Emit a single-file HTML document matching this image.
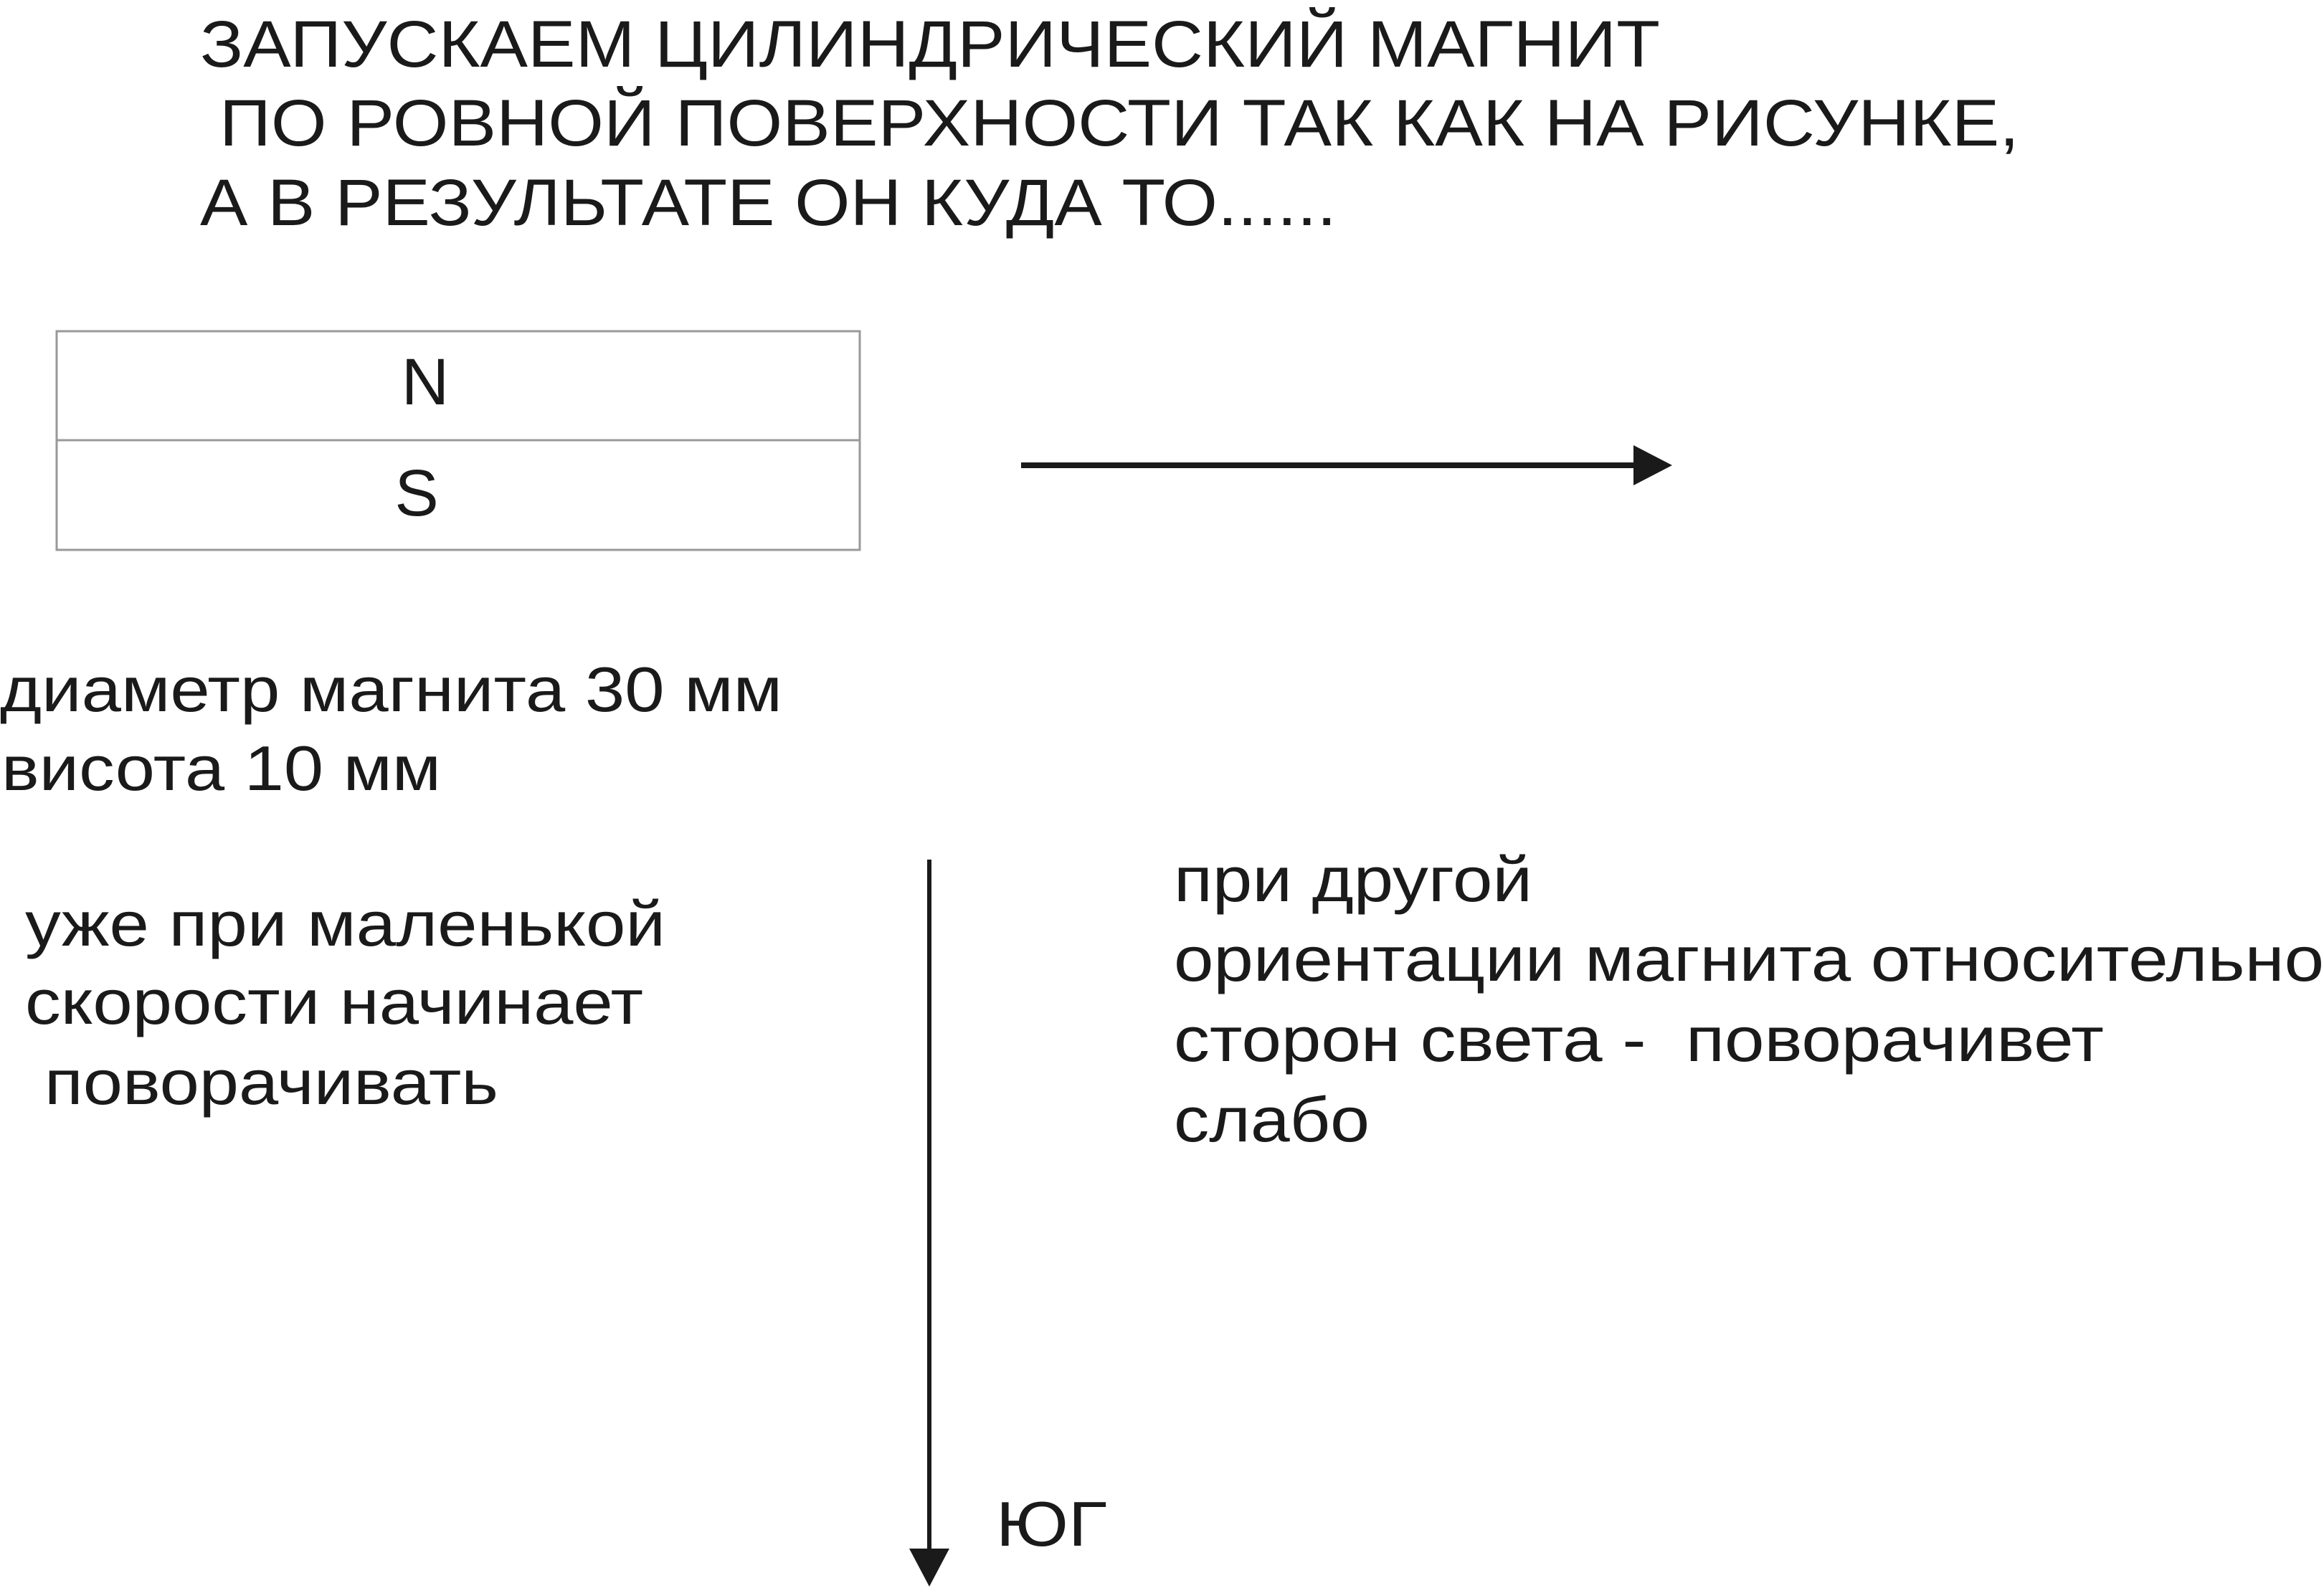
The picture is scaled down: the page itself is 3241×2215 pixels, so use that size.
<!DOCTYPE html>
<html><head><meta charset="utf-8"><style>
html,body{margin:0;padding:0;background:#fff;}
svg{display:block}
text{font-family:"Liberation Sans",Arial,sans-serif;fill:#1a1a1a}
</style></head><body>
<svg width="3241" height="2215" viewBox="0 0 3241 2215" xmlns="http://www.w3.org/2000/svg">
<rect width="3241" height="2215" fill="#fff"/>
<g font-size="92">
<text x="279" y="93" textLength="2036" lengthAdjust="spacingAndGlyphs">ЗАПУСКАЕМ ЦИЛИНДРИЧЕСКИЙ МАГНИТ</text>
<text x="306" y="203" textLength="2510" lengthAdjust="spacingAndGlyphs">ПО РОВНОЙ ПОВЕРХНОСТИ ТАК КАК НА РИСУНКЕ,</text>
<text x="279" y="314" textLength="1585" lengthAdjust="spacingAndGlyphs">А В РЕЗУЛЬТАТЕ ОН КУДА ТО......</text>
</g>
<rect x="79" y="462" width="1120" height="305" fill="none" stroke="#999" stroke-width="3"/>
<line x1="79" y1="614" x2="1199" y2="614" stroke="#999" stroke-width="3"/>
<text x="593" y="564" font-size="92" text-anchor="middle">N</text>
<text x="581" y="719" font-size="92" text-anchor="middle">S</text>
<line x1="1424" y1="649" x2="2285" y2="649" stroke="#1a1a1a" stroke-width="8"/>
<polygon points="2278,621 2332,649 2278,677" fill="#1a1a1a"/>
<g font-size="88">
<text x="0" y="992" textLength="1091" lengthAdjust="spacingAndGlyphs">диаметр магнита 30 мм</text>
<text x="2" y="1102" textLength="613" lengthAdjust="spacingAndGlyphs">висота 10 мм</text>
<text x="35" y="1319" textLength="893" lengthAdjust="spacingAndGlyphs">уже при маленькой</text>
<text x="35" y="1428" textLength="862" lengthAdjust="spacingAndGlyphs">скорости начинает</text>
<text x="62" y="1540" textLength="633" lengthAdjust="spacingAndGlyphs">поворачивать</text>
<text x="1637" y="1257" textLength="500" lengthAdjust="spacingAndGlyphs">при другой</text>
<text x="1637" y="1368" textLength="1604" lengthAdjust="spacingAndGlyphs">ориентации магнита относительно</text>
<text x="1637" y="1480" xml:space="preserve" textLength="1297" lengthAdjust="spacingAndGlyphs">сторон света -  поворачивет</text>
<text x="1637" y="1592" textLength="273" lengthAdjust="spacingAndGlyphs">слабо</text>
<text x="1389" y="2156" textLength="155" lengthAdjust="spacingAndGlyphs">ЮГ</text>
</g>
<line x1="1296" y1="1199" x2="1296" y2="2165" stroke="#1a1a1a" stroke-width="6"/>
<polygon points="1268,2160 1324,2160 1296,2213" fill="#1a1a1a"/>
</svg>
</body></html>
